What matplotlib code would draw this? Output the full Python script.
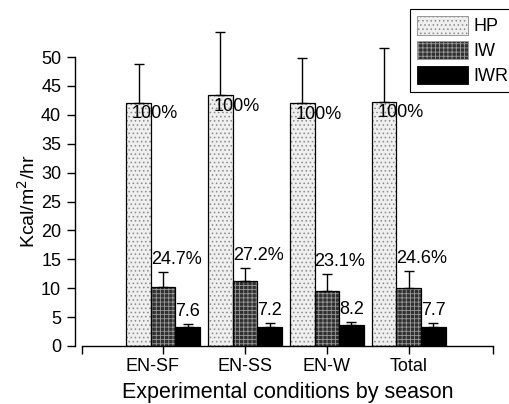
import matplotlib
matplotlib.use("Agg")
import matplotlib.pyplot as plt
import matplotlib.transforms as mtransforms
import numpy as np
from matplotlib.patches import Patch

plt.rcParams['font.family'] = ['Liberation Sans', 'DejaVu Sans']
plt.rcParams['hatch.linewidth'] = 0.6

categories = ["EN-SF", "EN-SS", "EN-W", "Total"]
hp_vals = [42.1, 43.4, 42.0, 42.3]
hp_err = [6.7, 10.9, 7.9, 9.3]
iw_vals = [10.2, 11.2, 9.6, 10.1]
iw_err = [2.55, 2.3, 2.9, 2.9]
iwr_vals = [3.2, 3.2, 3.6, 3.35]
iwr_err = [0.55, 0.7, 0.55, 0.55]
hp_labels = ["100%", "100%", "100%", "100%"]
iw_labels = ["24.7%", "27.2%", "23.1%", "24.6%"]
iwr_labels = ["7.6", "7.2", "8.2", "7.7"]

series = [
    ("HP", hp_vals, hp_err, '#efefef', '....', '#8a8a8a'),
    ("IW", iw_vals, iw_err, '#303030', '++++', '#9a9a9a'),
    ("IWR", iwr_vals, iwr_err, '#000000', None, None),
]

fig = plt.figure(figsize=(5.10, 4.04), dpi=100)
ax = fig.add_axes([0.1608, 0.1436, 0.9667 - 0.1608, 0.9304 - 0.1436])

x = np.arange(len(categories))
w = 0.3
offsets = [-w, 0, w]
handles = []
for (name, vals, err, fc, hatch, hc), off in zip(series, offsets):
    xs = x + off
    ax.bar(xs, vals, width=w, color=fc, edgecolor=hc if hatch else fc,
           hatch=hatch, linewidth=0, zorder=2)
    ax.bar(xs, vals, width=w, fill=False, edgecolor='black', linewidth=0.9, zorder=3)
    ax.errorbar(xs, vals, yerr=[np.zeros(len(vals)), err], fmt='none',
                ecolor='black', elinewidth=1.0, capsize=3.5, capthick=1.0, zorder=4)
    handles.append(Patch(facecolor=fc, edgecolor=hc if hatch else fc, hatch=hatch,
                         linewidth=0.6, label=name))

fs = 13
for i in range(len(categories)):
    ax.text(x[i] - w - 0.08, hp_vals[i] - 1.9, hp_labels[i], ha='left', va='center',
            fontsize=fs, zorder=5)
    ax.text(x[i] - w / 2, iw_vals[i] + iw_err[i] + 0.7, iw_labels[i], ha='left',
            va='bottom', fontsize=fs, zorder=5)
    ax.text(x[i] + w, iwr_vals[i] + iwr_err[i] + 0.7, iwr_labels[i], ha='center',
            va='bottom', fontsize=fs, zorder=5)

ax.set_xlim(-0.99, 4.03)
ax.set_ylim(0, 55)
ax.set_yticks(np.arange(0, 51, 5))
ax.set_xticks([-0.99, 0, 1, 2, 3, 4.03])
ax.set_xticklabels([""] + categories + [""])
ax.tick_params(axis='both', direction='out', length=6, width=1, labelsize=13, pad=4)
ax.tick_params(axis='x', pad=3)

# first category label sits slightly left of its tick in the reference
lbl = ax.get_xticklabels()[1]
lbl.set_transform(lbl.get_transform() +
                  mtransforms.ScaledTranslation(-11 / 100, 0, fig.dpi_scale_trans))

for s in ['top', 'right']:
    ax.spines[s].set_visible(False)
ax.spines['left'].set_position(('outward', 5))
ax.spines['left'].set_bounds(0, 50)
ax.spines['left'].set_linewidth(1)
ax.spines['bottom'].set_linewidth(1)

ax.set_xlabel("Experimental conditions by season", fontsize=15.5, labelpad=5)
ax.set_ylabel("Kcal/m$^2$/hr", fontsize=14)
ax.yaxis.set_label_coords(-0.105, 25 / 55)

leg = fig.legend(handles=handles, loc='upper left', bbox_to_anchor=(0.804, 0.978),
                 bbox_transform=fig.transFigure, borderaxespad=0, fancybox=False,
                 edgecolor='black', fontsize=13, handlelength=2.8, handleheight=1.2,
                 labelspacing=0.3, handletextpad=0.3, borderpad=0.4, framealpha=1)
leg.get_frame().set_linewidth(0.8)

fig.savefig("out.png", dpi=100)
